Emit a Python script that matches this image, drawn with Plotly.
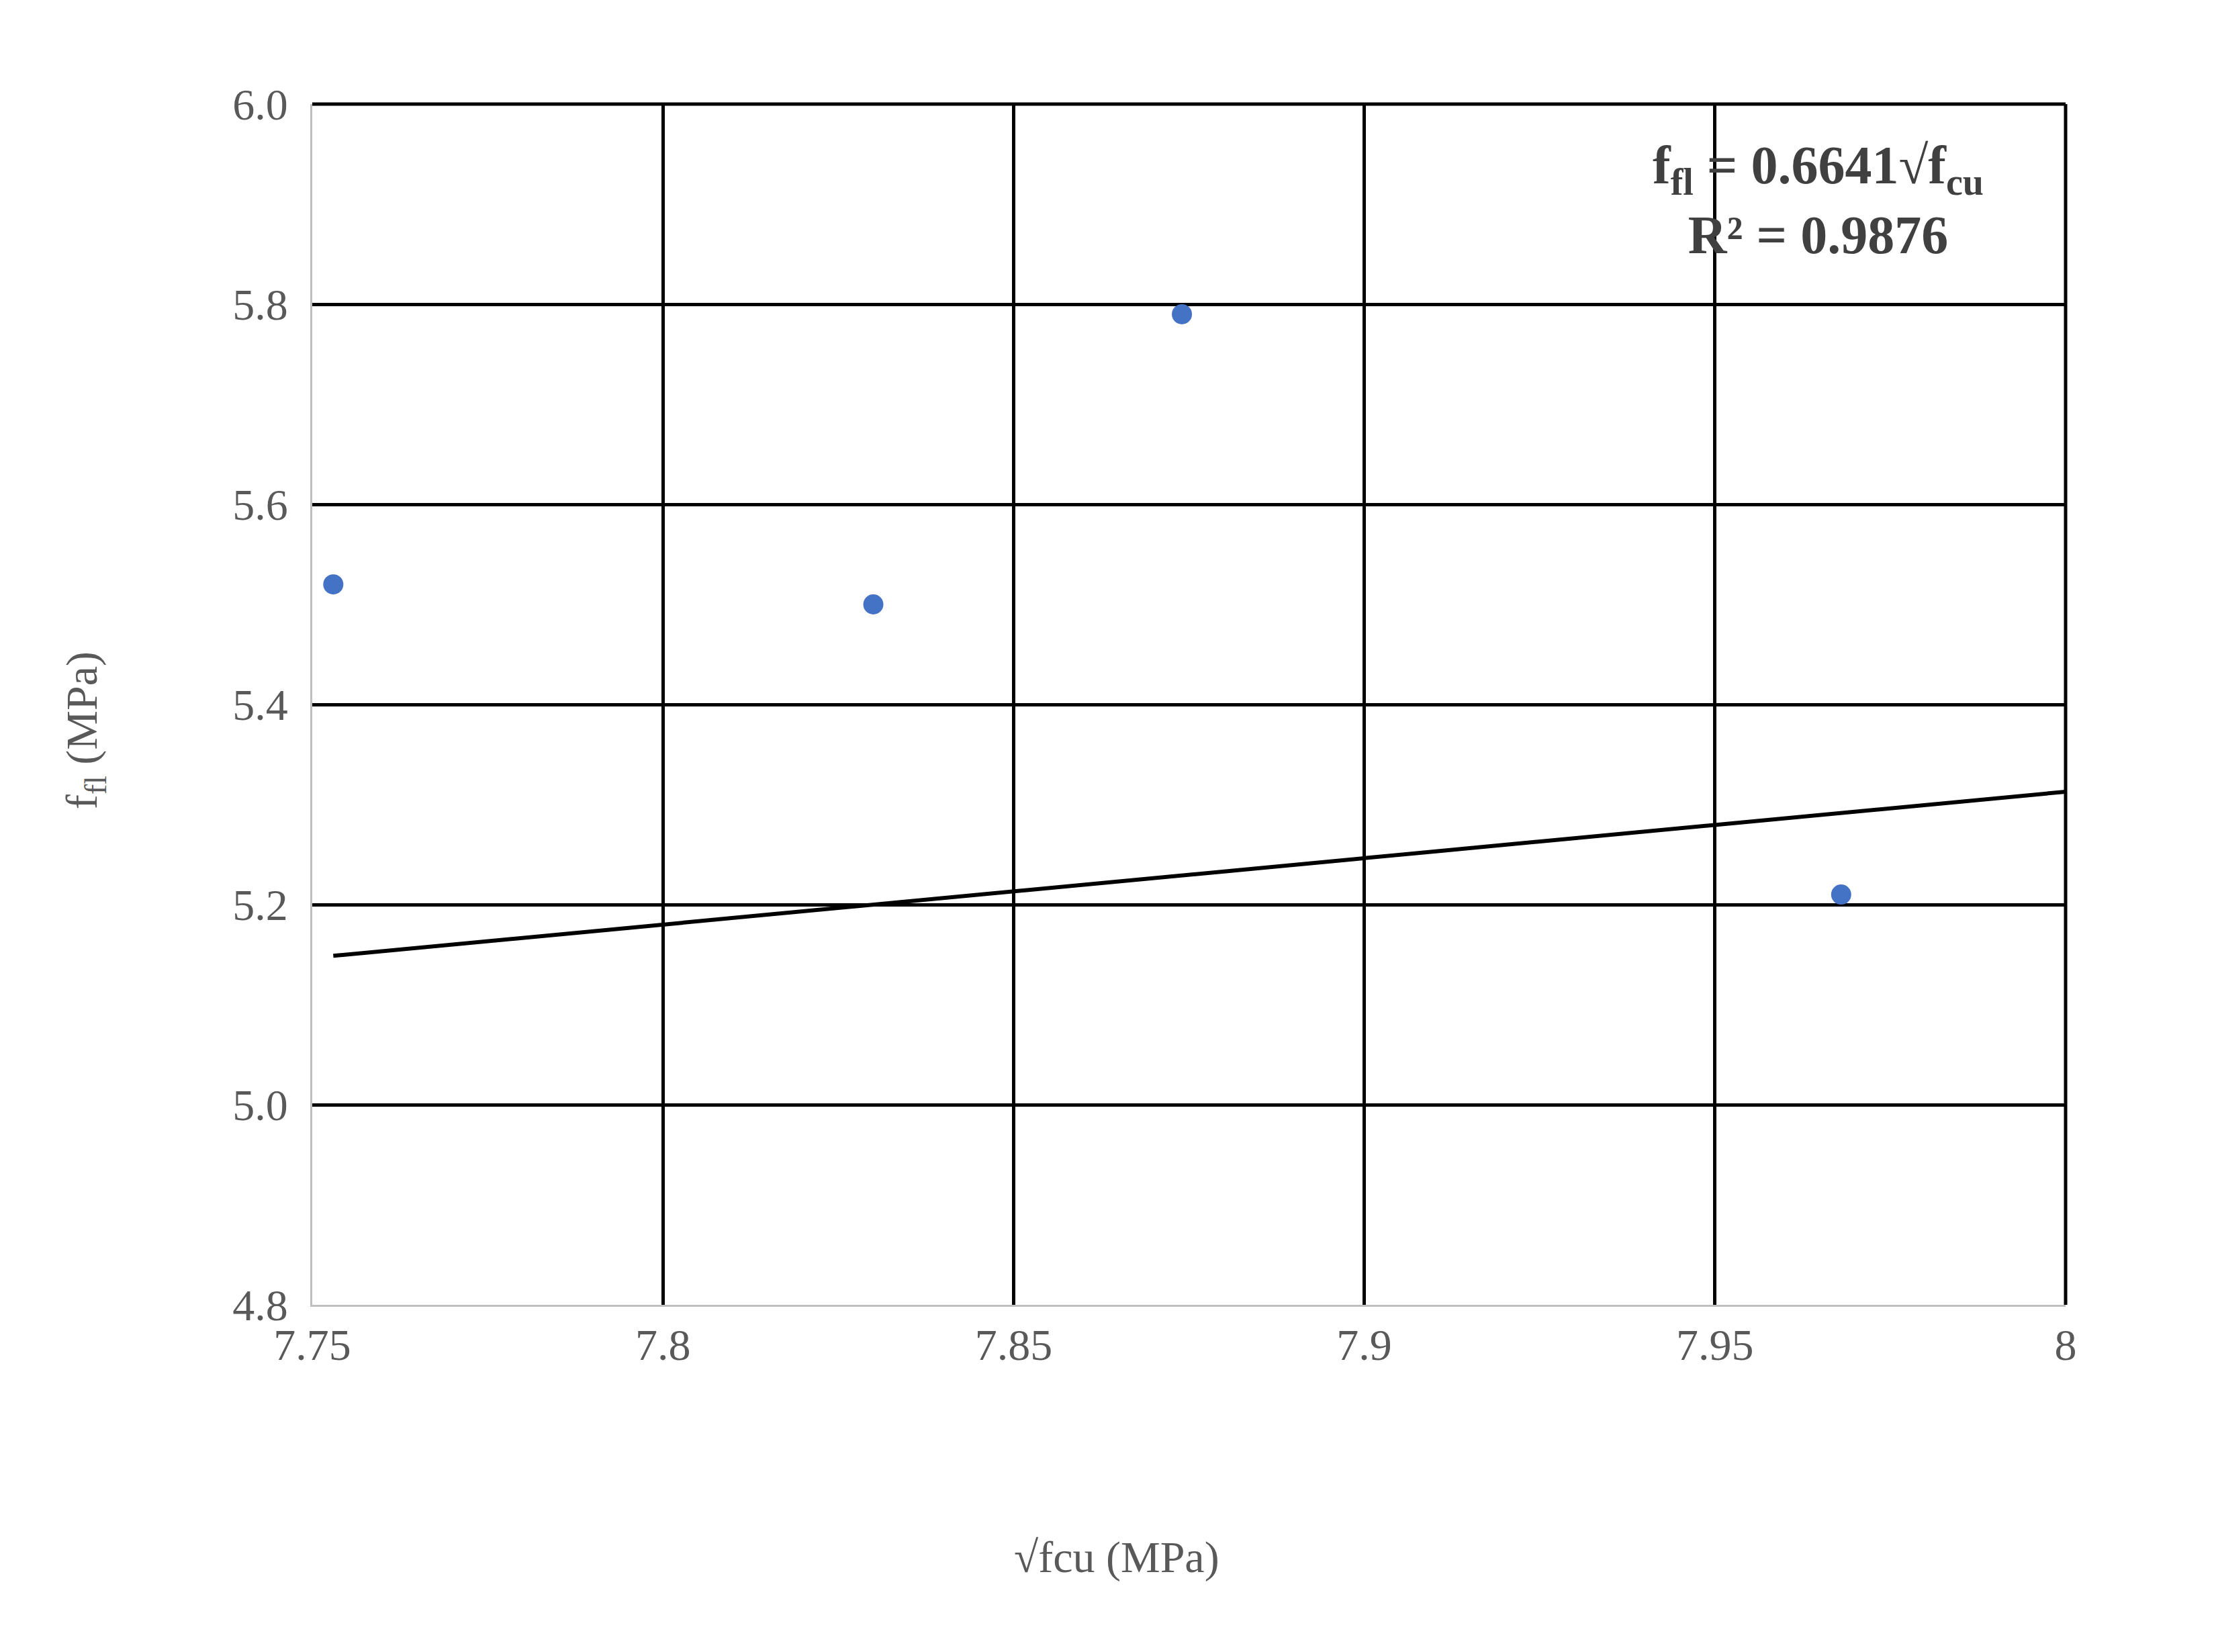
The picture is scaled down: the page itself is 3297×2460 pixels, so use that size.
import plotly.graph_objects as go

x_pts = [7.753, 7.830, 7.874, 7.968]
y_pts = [5.52, 5.50, 5.79, 5.21]
coef = 0.6641
fit_x = [7.753, 8.0]
fit_y = [coef * v for v in fit_x]
x_ticks = [7.75, 7.8, 7.85, 7.9, 7.95, 8.0]
x_labels = ["7.75", "7.8", "7.85", "7.9", "7.95", "8"]
y_ticks = [4.8, 5.0, 5.2, 5.4, 5.6, 5.8, 6.0]
y_labels = ["4.8", "5.0", "5.2", "5.4", "5.6", "5.8", "6.0"]

W, H = 3297, 2460
L, R, T, B = 457, 3068, 147, 1935

fig = go.Figure()
fig.add_trace(go.Scatter(x=x_pts, y=y_pts, mode="markers",
                         marker=dict(color="#4472C4", size=30), showlegend=False))
fig.add_trace(go.Scatter(x=fit_x, y=fit_y, mode="lines",
                         line=dict(color="black", width=6), showlegend=False))

font = dict(family="Liberation Serif", size=66, color="#595959")
fig.update_layout(
    width=W, height=H, paper_bgcolor="white", plot_bgcolor="white",
    margin=dict(l=L, r=W - R, t=T, b=H - B),
    font=font,
    xaxis=dict(range=[7.75, 8.0], tickvals=x_ticks, ticktext=x_labels,
               showgrid=True, gridcolor="black", gridwidth=5,
               showline=True, linecolor="#BFBFBF", linewidth=3, mirror=False,
               zeroline=False, ticks="", tickfont=font),
    yaxis=dict(range=[4.8, 6.0], tickvals=y_ticks, ticktext=y_labels,
               showgrid=True, gridcolor="black", gridwidth=5,
               showline=True, linecolor="#BFBFBF", linewidth=3,
               zeroline=False, ticks="", tickfont=font, ticklabelstandoff=20),
    shapes=[
        dict(type="line", xref="paper", yref="paper", x0=0, x1=1, y0=1, y1=1,
             line=dict(color="black", width=5)),
        dict(type="line", xref="paper", yref="paper", x0=1, x1=1, y0=0, y1=1,
             line=dict(color="black", width=5)),
    ],
    annotations=[
        dict(text="f<sub>fl</sub> = 0.6641√f<sub>cu</sub><br>R² = 0.9876",
             xref="paper", yref="paper", x=0.859, y=0.975, xanchor="center", yanchor="top",
             showarrow=False, align="center",
             font=dict(family="Liberation Serif", size=80, color="#404040", weight="bold")),
        dict(text="√fcu (MPa)", xref="paper", yref="paper", x=0.459,
             y=-(2311 - B) / (B - T), xanchor="center", yanchor="middle",
             showarrow=False, font=font),
        dict(text="f<sub>fl</sub> (MPa)", xref="paper", yref="paper",
             x=(118 - L) / (R - L), y=0.478, xanchor="center", yanchor="middle",
             textangle=-90, showarrow=False, font=font),
    ],
)
fig.write_html("out.html")
